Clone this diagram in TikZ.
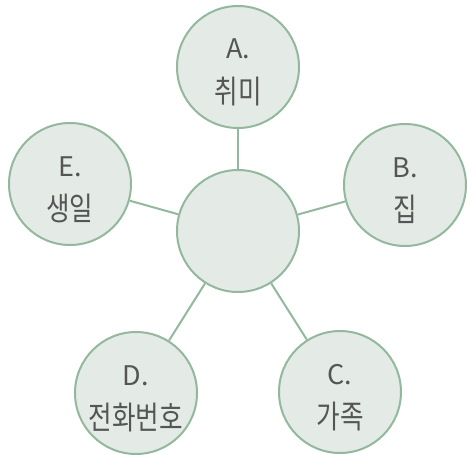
\documentclass[tikz,border=0pt]{standalone}
\usepackage{fontspec}
\usetikzlibrary{calc}
\setmainfont{Noto Sans CJK KR}
\newfontfamily\hanfont[FakeStretch=0.8]{Noto Sans CJK KR}
\newfontfamily\latfont{Noto Sans CJK KR}
\definecolor{bubblefill}{HTML}{E4EBE6}
\definecolor{bubbleline}{HTML}{93B89D}
\definecolor{txt}{HTML}{555555}
\begin{document}
\begin{tikzpicture}[x=1pt,y=-1pt,
  bubble/.style={circle,draw=bubbleline,fill=bubblefill,line width=2pt,minimum size=122pt,inner sep=0pt},
  conn/.style={draw=bubbleline,line width=2pt},
  lat/.style={anchor=base,text=txt,font=\latfont\fontsize{27}{27}\selectfont,inner sep=0pt},
  han/.style={anchor=center,text=txt,font=\hanfont\fontsize{32}{32}\selectfont,inner sep=0pt}]
\useasboundingbox (0,0) rectangle (467,455);
\node[bubble] (O) at (238,231) {};
\node[bubble] (A) at (238,67) {};
\node[bubble] (B) at (405,185) {};
\node[bubble] (C) at (340,392) {};
\node[bubble] (D) at (136,393) {};
\node[bubble] (E) at (70,184) {};
\foreach \n in {A,B,C,D,E}{\path[conn] (O) -- (\n);}
\node[lat] (la) at ($(A)+(0,-8)$) {A.};
\node[han] (ha) at ($(A)+(0,24.5)$) {취미};
\node[lat] (lb) at ($(B)+(0,-8)$) {B.};
\node[han] (hb) at ($(B)+(0,24.5)$) {집};
\node[lat] (lc) at ($(C)+(0,-8)$) {C.};
\node[han] (hc) at ($(C)+(0,24.5)$) {가족};
\node[lat] (ld) at ($(D)+(0,-8)$) {D.};
\node[han] (hd) at ($(D)+(0,24.5)$) {전화번호};
\node[lat] (le) at ($(E)+(0,-8)$) {E.};
\node[han] (he) at ($(E)+(0,24.5)$) {생일};
\end{tikzpicture}
\end{document}
